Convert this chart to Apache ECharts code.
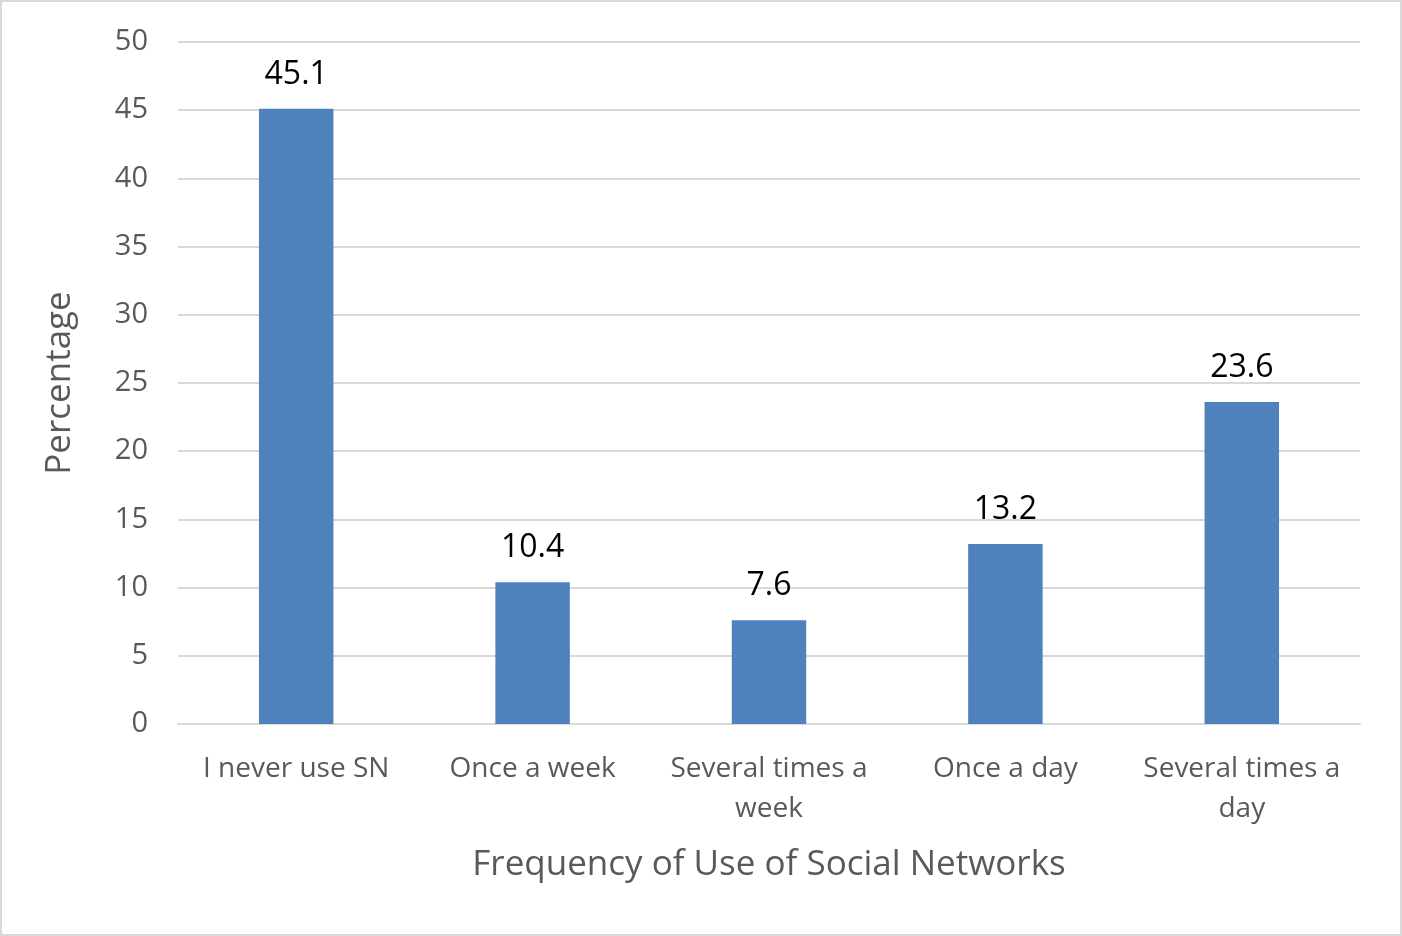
<!DOCTYPE html>
<html><head><meta charset="utf-8">
<script src="https://cdn.jsdelivr.net/npm/echarts@6/dist/echarts.min.js"></script>
<style>
html,body{margin:0;padding:0;background:#fff;}
#c{position:absolute;left:0;top:0;width:1398px;height:932px;border:2px solid #d9d9d9;}
</style></head><body>
<div id="c"></div>
<script>
const categories = ['I never use SN', 'Once a week', 'Several times a\nweek', 'Once a day', 'Several times a\nday'];
const percentages = [45.1, 10.4, 7.6, 13.2, 23.6];
const yTicks = [0, 5, 10, 15, 20, 25, 30, 35, 40, 45, 50];
const xTitle = 'Frequency of Use of Social Networks';
const yTitle = 'Percentage';

const chart = echarts.init(document.getElementById('c'));
const font = '"Open Sans", "Noto Sans", sans-serif';
chart.setOption({
  animation: false,
  grid: {left: 176, right: 40, top: 40, bottom: 210},
  xAxis: {
    type: 'category', data: categories,
    axisLine: {lineStyle: {color: '#d9d9d9', width: 2}},
    axisTick: {show: false},
    axisLabel: {color: '#595959', fontSize: 28, fontFamily: font, lineHeight: 40, margin: 25, interval: 0},
    name: xTitle, nameLocation: 'middle', nameGap: 124,
    nameTextStyle: {color: '#595959', fontSize: 35, fontFamily: font}
  },
  yAxis: {
    type: 'value', min: yTicks[0], max: yTicks[yTicks.length-1], interval: 5,
    axisLine: {show: false}, axisTick: {show: false},
    splitLine: {lineStyle: {color: '#d9d9d9', width: 2}},
    axisLabel: {color: '#595959', fontSize: 29, fontFamily: font, margin: 30},
    name: yTitle, nameLocation: 'middle', nameGap: 100, nameRotate: 90,
    nameTextStyle: {color: '#595959', fontSize: 35, fontFamily: font}
  },
  series: [{
    type: 'bar', data: percentages, barWidth: '31.5%',
    itemStyle: {color: '#4f81bd'},
    label: {show: true, position: 'top', distance: 18, color: '#000', fontSize: 32, fontFamily: font}
  }]
});
</script></body></html>
